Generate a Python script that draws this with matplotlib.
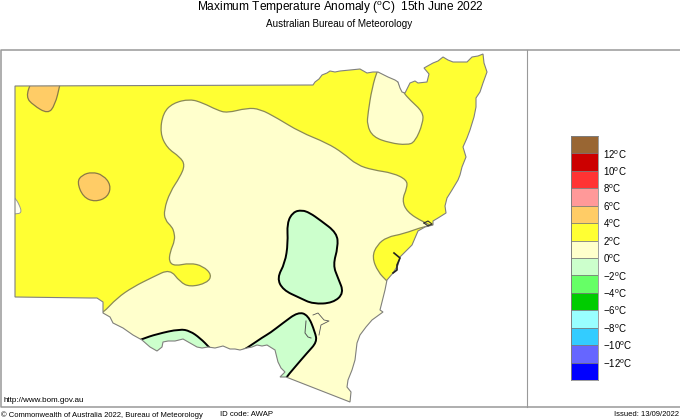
import matplotlib
matplotlib.use("Agg")
import matplotlib.pyplot as plt
from matplotlib.patches import PathPatch, Polygon
from matplotlib.path import Path

plt.rcParams['font.family'] = ['Liberation Sans', 'DejaVu Sans']
plt.rcParams['mathtext.fontset'] = 'custom'
plt.rcParams['mathtext.rm'] = 'Liberation Sans'

# colour scale
levels = [14, 12, 10, 8, 6, 4, 2, 0, -2, -4, -6, -8, -10, -12, -14]
colours = ['#996633', '#CC0000', '#FF3333', '#FF9999', '#FFCC66', '#FFFF33', '#FFFFCC',
           '#CCFFCC', '#66FF66', '#00CC00', '#99FFFF', '#33CCFF', '#6666FF', '#0000FF']
tick_values = [12, 10, 8, 6, 4, 2, 0, -2, -4, -6, -8, -10, -12]

# map outlines in pixels
state = [(15, 86), (313, 85), (315, 82), (319, 79), (322, 75), (327, 73), (330, 71), (335, 72), (340, 71),
         (350, 70), (360, 69), (367, 73), (373, 72), (378, 72), (388, 77), (395, 80), (398, 82), (400, 88),
         (402, 92), (405, 93), (410, 83), (415, 81), (418, 83), (427, 82), (429, 74), (424, 68),
         (433, 63), (438, 61), (443, 57), (448, 60), (453, 62), (467, 62), (472, 57), (478, 56), (483, 54),
         (484, 63), (487, 72), (483, 83), (480, 92), (476, 98), (476, 107), (474, 117), (470, 130),
         (467, 138), (463, 147), (466, 157), (462, 167), (460, 175), (458, 180), (452, 190), (447, 198),
         (445, 206), (446, 213), (438, 218), (433, 221), (433, 225), (425, 227), (418, 231), (412, 245),
         (405, 252), (400, 257), (398, 265), (393, 273), (387, 280), (385, 290), (382, 302), (380, 310),
         (383, 312), (372, 320), (366, 327), (360, 335), (357, 343), (355, 360), (352, 370), (348, 380),
         (347, 387), (351, 392), (350, 402), (286, 377), (280, 377), (285, 372), (281, 368), (278, 362),
         (275, 350), (267, 345), (262, 346), (257, 345), (252, 347), (247, 348), (240, 350), (235, 349),
         (230, 349), (223, 346), (215, 348), (208, 347), (202, 348), (197, 347), (190, 343), (183, 339),
         (175, 341), (168, 341), (163, 342), (162, 347), (157, 351), (150, 347), (142, 340), (133, 335),
         (123, 328), (113, 323), (110, 317), (103, 313), (103, 302), (97, 298), (90, 298), (15, 297)]

band_0_2 = [(103, 313), (117, 298), (133, 287), (153, 277), (170, 269), (180, 282), (190, 287),
            (207, 283), (212, 275), (203, 266), (190, 263), (175, 266), (169, 262), (170, 252),
            (175, 240), (174, 232), (172, 227), (165, 220), (164, 210), (170, 192), (180, 177),
            (185, 165), (180, 157), (167, 148), (160, 133), (163, 113), (173, 103), (190, 99),
            (203, 103), (217, 110), (227, 113), (247, 108), (260, 109), (277, 118), (300, 132),
            (327, 143), (343, 153), (357, 165), (373, 170), (393, 173), (407, 180), (407, 188),
            (402, 200), (407, 212), (423, 222), (445, 232), (540, 260), (540, 430), (300, 430),
            (60, 400), (85, 325)]
north_0_2 = [(378, 68), (372, 88), (368, 113), (367, 125), (373, 137), (390, 143), (407, 145),
             (415, 142), (423, 123), (423, 112), (410, 100), (403, 92), (396, 78), (388, 55)]
sydney_2_4 = [(425, 226), (403, 234), (387, 237), (377, 245), (372, 257), (378, 272), (387, 281),
              (400, 295), (460, 290), (450, 222)]
orange_nw = [(31, 82), (26, 97), (33, 105), (48, 114), (55, 105), (60, 85), (61, 76), (35, 76)]
orange_mid = [(77, 182), (82, 175), (92, 172), (103, 175), (111, 185), (108, 197), (95, 202), (83, 197)]
white_west = [(13, 197), (15, 198), (19, 204), (22, 213), (15, 214), (8, 214), (8, 198)]
green_mid = [(302, 210), (293, 212), (287, 223), (288, 243), (285, 263), (277, 278), (283, 290),
             (300, 298), (313, 304), (333, 303), (344, 293), (338, 278), (333, 265), (338, 247),
             (337, 233), (320, 220), (310, 213)]
green_se = [(247, 348), (263, 337), (270, 333), (283, 323), (298, 312), (308, 315), (315, 332),
            (317, 342), (307, 353), (295, 367), (284, 380), (272, 405), (235, 395), (235, 355)]
green_sw = [(142, 339), (157, 334), (180, 329), (190, 331), (200, 338), (210, 348), (225, 365),
            (150, 375), (128, 345)]

# lakes, estuaries and the ACT line
act_line = [(313, 315), (318, 313), (324, 320), (329, 321), (321, 325), (319, 335)]
lake_line = [(306, 321), (305, 333), (308, 337), (311, 338)]
sydney_line = [(394, 253), (400, 258), (397, 265), (397, 270), (393, 273)]
newcastle_line = [(424, 223), (428, 221), (432, 224), (428, 226), (424, 223)]


def smooth_path(points):
    # closed quadratic b-spline through the mid points
    verts = []
    codes = []
    n = len(points)
    for i in range(n):
        x0, y0 = points[i]
        x1, y1 = points[(i + 1) % n]
        mid = ((x0 + x1) / 2, (y0 + y1) / 2)
        if i == 0:
            xl, yl = points[-1]
            verts.append(((xl + x0) / 2, (yl + y0) / 2))
            codes.append(Path.MOVETO)
        verts += [(x0, y0), mid]
        codes += [Path.CURVE3, Path.CURVE3]
    return Path(verts, codes)


fig = plt.figure(figsize=(6.8, 4.2), dpi=100)
ax = fig.add_axes([0, 0, 1, 1])
ax.set_xlim(0, 680)
ax.set_ylim(420, 0)
ax.axis('off')

# frame, open on the right
frame_col = '#999999'
ax.plot([680, 0.5, 0.5, 680], [50, 50, 407, 407], color=frame_col, lw=1.1)
ax.plot([527, 527], [50, 407], color=frame_col, lw=0.8)

state_patch = Polygon(state, closed=True, facecolor=colours[5], edgecolor='none', zorder=1)
ax.add_patch(state_patch)

regions = [
    (band_0_2, colours[6], '#8a8a55', 0.9),
    (north_0_2, colours[6], '#8a8a55', 0.9),
    (sydney_2_4, colours[5], '#8a8a55', 0.9),
    (orange_nw, colours[4], '#8a7a45', 0.9),
    (orange_mid, colours[4], '#8a7a45', 0.9),
    (white_west, '#FFFFF0', '#999999', 0.7),
    (green_mid, colours[7], 'black', 1.4),
    (green_se, colours[7], 'black', 1.4),
    (green_sw, colours[7], 'black', 1.4),
]
for pts, col, edge, width in regions:
    p = PathPatch(smooth_path(pts), facecolor=col, edgecolor=edge, lw=width, zorder=2)
    ax.add_patch(p)
    p.set_clip_path(state_patch)

ax.add_patch(Polygon(state, closed=True, fill=False, edgecolor='#808080', lw=0.8, zorder=3))
for line, width, col in [(act_line, 0.6, '#555555'), (lake_line, 0.7, '#555555'),
                         (sydney_line, 1.2, '#222222'), (newcastle_line, 0.8, '#333333')]:
    ax.plot(*zip(*line), color=col, lw=width, zorder=4)

# colour bar
cax = fig.add_axes([571 / 680, 1 - 380 / 420, 27 / 680, 244 / 420])
for top, bottom, col in zip(levels[:-1], levels[1:], colours):
    cax.bar(0, top - bottom, bottom=bottom, width=1, color=col, edgecolor='#777777', lw=0.5)
cax.set_xlim(-0.5, 0.5)
cax.set_ylim(-14, 14)
cax.set_xticks([])
cax.set_yticks(tick_values)
cax.set_yticklabels([f"{'−' if v < 0 else ''}{abs(v)}$^{{\\mathrm{{o}}}}$C" for v in tick_values], fontsize=7)
cax.tick_params(axis='y', length=0, pad=3.8, labelright=True, labelleft=False)
for s in cax.spines.values():
    s.set_color('#777777')
    s.set_linewidth(0.5)

# text
ax.text(340, 8, "Maximum Temperature Anomaly ($^{\\mathrm{o}}$C)  15th June 2022", fontsize=8.6,
        ha='center', va='center')
ax.text(339, 24, "Australian Bureau of Meteorology", fontsize=7.1, ha='center', va='center')
ax.text(4, 401, "http://www.bom.gov.au", fontsize=5.8, va='center')
ax.text(1, 415, "© Commonwealth of Australia 2022, Bureau of Meteorology", fontsize=5.5, va='center')
ax.text(220, 415, "ID code: AWAP", fontsize=5.6, va='center')
ax.text(679, 415, "Issued: 13/09/2022", fontsize=5.5, va='center', ha='right')

fig.savefig("out.png", dpi=100)
